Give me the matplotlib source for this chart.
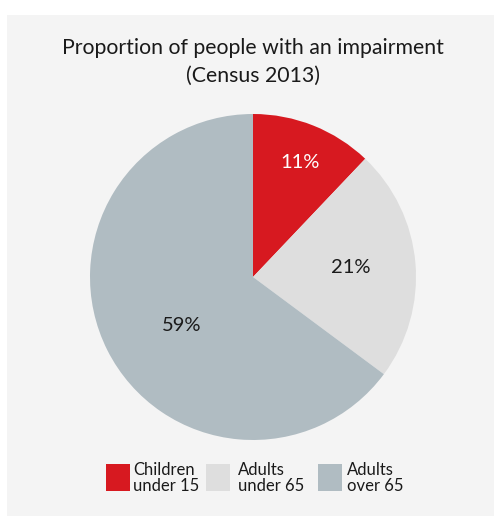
import matplotlib.pyplot as plt
from matplotlib.patches import Rectangle

groups = ['Children\nunder 15', 'Adults\nunder 65', 'Adults\nover 65']
shares = [11, 21, 59]
colors = ['#d71920', '#dedede', '#b0bcc2']

W, H = 494, 516
plt.rcParams['font.family'] = ['Lato', 'DejaVu Sans']

fig = plt.figure(figsize=(W / 100, H / 100), dpi=100, facecolor='white')

# light grey panel behind everything
fig.add_artist(Rectangle((7 / W, 0), 1, (H - 15) / H, transform=fig.transFigure,
                         facecolor='#f4f4f4', edgecolor='none', zorder=0))

fig.text(253 / W, 1 - 48 / H, 'Proportion of people with an impairment',
         ha='center', va='center', fontsize=15.3, color='#1a1a1a')
fig.text(253 / W, 1 - 76 / H, '(Census 2013)',
         ha='center', va='center', fontsize=15.3, color='#1a1a1a')

# pie centred at (253, 277) px with radius 163 px
ax = fig.add_axes([90 / W, (H - 440) / H, 326 / W, 326 / H])
ax.set_facecolor('none')
wedges, _ = ax.pie(shares, colors=colors, startangle=90, counterclock=False,
                   radius=1, wedgeprops=dict(linewidth=0))
ax.set_xlim(-1, 1)
ax.set_ylim(-1, 1)
ax.set_aspect('equal')
ax.axis('off')

label_pos = [(0.29, 0.70), (0.60, 0.06), (-0.44, -0.30)]
label_col = ['white', '#1a1a1a', '#1a1a1a']
for v, (x, y), c in zip(shares, label_pos, label_col):
    ax.text(x, y, f'{v}%', ha='center', va='center', fontsize=14.5, color=c)

# legend
patch_x = [106, 206, 318]
text_x = [133, 238, 347]
for name, c, px, tx in zip(groups, colors, patch_x, text_x):
    fig.add_artist(Rectangle((px / W, 1 - 491 / H), 24 / W, 27 / H,
                             transform=fig.transFigure, facecolor=c, edgecolor='none'))
    fig.text(tx / W, 1 - 478 / H, name, ha='left', va='center', fontsize=12,
             linespacing=1.0, color='#1a1a1a')

fig.savefig('out.png', dpi=100, facecolor='white')
